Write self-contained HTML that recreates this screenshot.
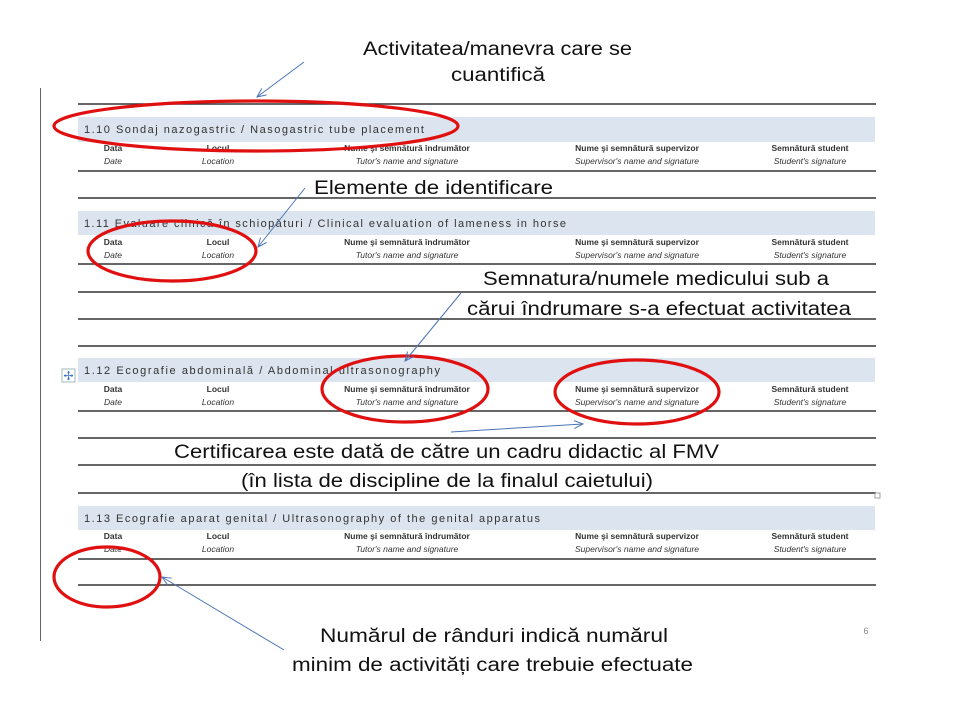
<!DOCTYPE html>
<html><head><meta charset="utf-8"><style>
html,body{margin:0;padding:0;background:#fff;}
svg{display:block;}
.ann{font-family:"Liberation Sans Narrow","Liberation Sans",sans-serif;font-size:19px;fill:#111;}
.ttl{font-family:"Liberation Sans",sans-serif;font-size:11px;fill:#333;}
.h1{font-family:"Liberation Sans",sans-serif;font-size:8.5px;font-weight:bold;fill:#333;}
.h2{font-family:"Liberation Sans",sans-serif;font-size:8.5px;font-style:italic;fill:#333;}
</style></head><body>
<svg width="960" height="720" viewBox="0 0 960 720" xmlns="http://www.w3.org/2000/svg">
<defs>
<marker id="ah" markerWidth="10" markerHeight="10" refX="9" refY="5" orient="auto" markerUnits="userSpaceOnUse">
<path d="M0,1 L9,5 L0,9" fill="none" stroke="#4a74b5" stroke-width="1"/>
</marker>
</defs>
<line x1="40.5" y1="88" x2="40.5" y2="641" stroke="#666" stroke-width="1"/>
<rect x="78" y="117" width="797" height="25" fill="#dce4ef"/>
<rect x="78" y="211" width="797" height="24" fill="#dce4ef"/>
<rect x="78" y="358" width="797" height="24" fill="#dce4ef"/>
<rect x="78" y="506" width="797" height="24" fill="#dce4ef"/>
<g stroke="#333" stroke-width="1.5">
<line x1="78" y1="104" x2="876" y2="104"/>
<line x1="78" y1="171" x2="876" y2="171"/>
<line x1="78" y1="198" x2="876" y2="198"/>
<line x1="78" y1="264" x2="876" y2="264"/>
<line x1="78" y1="292" x2="876" y2="292"/>
<line x1="78" y1="319" x2="876" y2="319"/>
<line x1="78" y1="346" x2="876" y2="346"/>
<line x1="78" y1="411" x2="876" y2="411"/>
<line x1="78" y1="438" x2="876" y2="438"/>
<line x1="78" y1="465" x2="876" y2="465"/>
<line x1="78" y1="493" x2="876" y2="493"/>
<line x1="78" y1="559" x2="876" y2="559"/>
<line x1="78" y1="585" x2="876" y2="585"/>
</g>
<rect x="875" y="493" width="5" height="5" fill="#fff" stroke="#888" stroke-width="0.8"/>
<rect x="62" y="369" width="13" height="13" fill="#fff" stroke="#8aa" stroke-width="0.8"/>
<text x="68.5" y="380" text-anchor="middle" font-size="12" fill="#3a6fc4" font-family="DejaVu Sans">✢</text>
<text class="ttl" x="84" y="133" textLength="340" lengthAdjust="spacing">1.10 Sondaj nazogastric / Nasogastric tube placement</text>
<text class="ttl" x="84" y="227" textLength="482" lengthAdjust="spacing">1.11 Evaluare clinică în schiopături / Clinical evaluation of lameness in horse</text>
<text class="ttl" x="84" y="374" textLength="356" lengthAdjust="spacing">1.12 Ecografie abdominală / Abdominal ultrasonography</text>
<text class="ttl" x="84" y="522" textLength="456" lengthAdjust="spacing">1.13 Ecografie aparat genital / Ultrasonography of the genital apparatus</text>
<g id="hd">
<text class="h1" x="113" y="151" text-anchor="middle">Data</text>
<text class="h1" x="218" y="151" text-anchor="middle">Locul</text>
<text class="h1" x="407" y="151" text-anchor="middle">Nume şi semnătură îndrumător</text>
<text class="h1" x="637" y="151" text-anchor="middle">Nume şi semnătură supervizor</text>
<text class="h1" x="810" y="151" text-anchor="middle">Semnătură student</text>
<text class="h2" x="113" y="164" text-anchor="middle">Date</text>
<text class="h2" x="218" y="164" text-anchor="middle">Location</text>
<text class="h2" x="407" y="164" text-anchor="middle">Tutor's name and signature</text>
<text class="h2" x="637" y="164" text-anchor="middle">Supervisor's name and signature</text>
<text class="h2" x="810" y="164" text-anchor="middle">Student's signature</text>
</g>
<use href="#hd" y="94"/>
<use href="#hd" y="241"/>
<use href="#hd" y="388"/>
<g fill="none" stroke="#e01010" stroke-width="3.2">
<ellipse cx="256" cy="126" rx="202" ry="25"/>
<ellipse cx="172" cy="251" rx="84" ry="30"/>
<ellipse cx="405" cy="389" rx="83" ry="33"/>
<ellipse cx="637" cy="392" rx="82" ry="32"/>
<ellipse cx="107" cy="577" rx="53" ry="30"/>
</g>
<g stroke="#4a74b5" stroke-width="1" marker-end="url(#ah)">
<line x1="304" y1="62" x2="257" y2="97"/>
<line x1="305" y1="188" x2="258" y2="247"/>
<line x1="461" y1="293" x2="405" y2="361"/>
<line x1="451" y1="432" x2="583" y2="424"/>
<line x1="284" y1="650" x2="162" y2="577"/>
</g>
<text class="ann" x="363" y="55" textLength="269" lengthAdjust="spacingAndGlyphs">Activitatea/manevra care se</text>
<text class="ann" x="451" y="81" textLength="94" lengthAdjust="spacingAndGlyphs">cuantifică</text>
<text class="ann" x="314" y="194" textLength="239" lengthAdjust="spacingAndGlyphs">Elemente de identificare</text>
<text class="ann" x="483" y="285" textLength="346" lengthAdjust="spacingAndGlyphs">Semnatura/numele medicului sub a</text>
<text class="ann" x="467" y="315" textLength="384" lengthAdjust="spacingAndGlyphs">cărui îndrumare s-a efectuat activitatea</text>
<text class="ann" x="174" y="458" textLength="545" lengthAdjust="spacingAndGlyphs">Certificarea este dată de către un cadru didactic al FMV</text>
<text class="ann" x="241" y="487" textLength="412" lengthAdjust="spacingAndGlyphs">(în lista de discipline de la finalul caietului)</text>
<text class="ann" x="320" y="642" textLength="348" lengthAdjust="spacingAndGlyphs">Numărul de rânduri indică numărul</text>
<text class="ann" x="292" y="671" textLength="401" lengthAdjust="spacingAndGlyphs">minim de activități care trebuie efectuate</text>
<text x="866" y="634" font-family="Liberation Sans,sans-serif" font-size="9" fill="#888" text-anchor="middle">6</text>
</svg>
</body></html>
